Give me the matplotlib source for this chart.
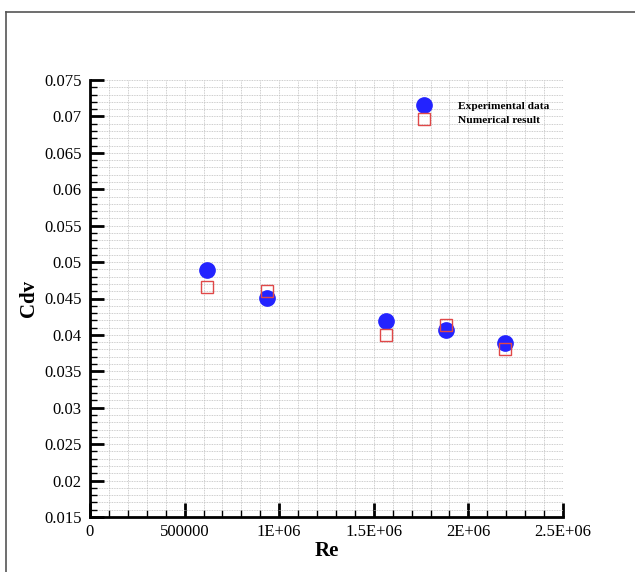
import matplotlib
matplotlib.use("Agg")
import matplotlib.pyplot as plt
from matplotlib.ticker import MultipleLocator, FixedLocator, FixedFormatter
from matplotlib.lines import Line2D

# === Data ===
re_exp = [618000, 935000, 1564000, 1882000, 2195000]
cdv_exp = [0.0489, 0.0451, 0.0419, 0.0407, 0.0389]
re_num = [618000, 935000, 1564000, 1882000, 2195000]
cdv_num = [0.0466, 0.0460, 0.0400, 0.0414, 0.0381]

xtick_vals = [0, 500000, 1000000, 1500000, 2000000, 2500000]
xtick_labels = ["0", "500000", "1E+06", "1.5E+06", "2E+06", "2.5E+06"]
ytick_vals = [0.015, 0.02, 0.025, 0.03, 0.035, 0.04, 0.045, 0.05,
              0.055, 0.06, 0.065, 0.07, 0.075]
ytick_labels = ["0.015", "0.02", "0.025", "0.03", "0.035", "0.04", "0.045",
                "0.05", "0.055", "0.06", "0.065", "0.07", "0.075"]

plt.rcParams["font.family"] = ["Liberation Serif", "DejaVu Serif"]

W, H = 635, 572
fig = plt.figure(figsize=(W / 100, H / 100), dpi=100)
ax = fig.add_axes([90 / W, 1 - 517 / H, (563 - 90) / W, (517 - 80) / H])

# frame lines around the picture (top and left only)
fig.add_artist(Line2D([6 / W, 1.0], [1 - 12 / H, 1 - 12 / H], color="#555555", lw=1.2))
fig.add_artist(Line2D([6 / W, 6 / W], [0.0, 1 - 12 / H], color="#555555", lw=1.2))

ax.plot(re_exp, cdv_exp, "o", color="#2323ff", markersize=11, zorder=3,
        label="Experimental data")
ax.plot(re_num, cdv_num, "s", markerfacecolor="none", markeredgecolor="#e04848",
        markeredgewidth=1.0, markersize=8.6, zorder=4, label="Numerical result")

ax.set_xlim(0, 2500000)
ax.set_ylim(0.015, 0.075)

ax.xaxis.set_major_locator(FixedLocator(xtick_vals))
ax.xaxis.set_major_formatter(FixedFormatter(xtick_labels))
ax.xaxis.set_minor_locator(MultipleLocator(100000))
ax.yaxis.set_major_locator(FixedLocator(ytick_vals))
ax.yaxis.set_major_formatter(FixedFormatter(ytick_labels))
ax.yaxis.set_minor_locator(MultipleLocator(0.001))

ax.grid(which="both", color="#bdbdbd", linestyle=(0, (1, 1)), linewidth=0.6)
ax.set_axisbelow(True)

for s in ["top", "right"]:
    ax.spines[s].set_visible(False)
for s in ["left", "bottom"]:
    ax.spines[s].set_linewidth(2)

ax.tick_params(which="major", direction="in", length=10, width=2, labelsize=12)
ax.tick_params(which="minor", direction="in", length=5, width=1)
ax.tick_params(axis="y", which="major", pad=6)
ax.tick_params(axis="x", which="major", pad=5)

ax.set_xlabel("Re", fontsize=15, fontweight="bold", labelpad=1)
ax.set_ylabel("Cdv", fontsize=15, fontweight="bold", labelpad=4)

leg = ax.legend(loc="upper left", bbox_to_anchor=(0.677, 0.966), frameon=False,
                prop={"weight": "bold", "size": 8.2}, handletextpad=2.2,
                labelspacing=0.38, borderpad=0, handlelength=1.5)

fig.savefig("out.png", dpi=100)
